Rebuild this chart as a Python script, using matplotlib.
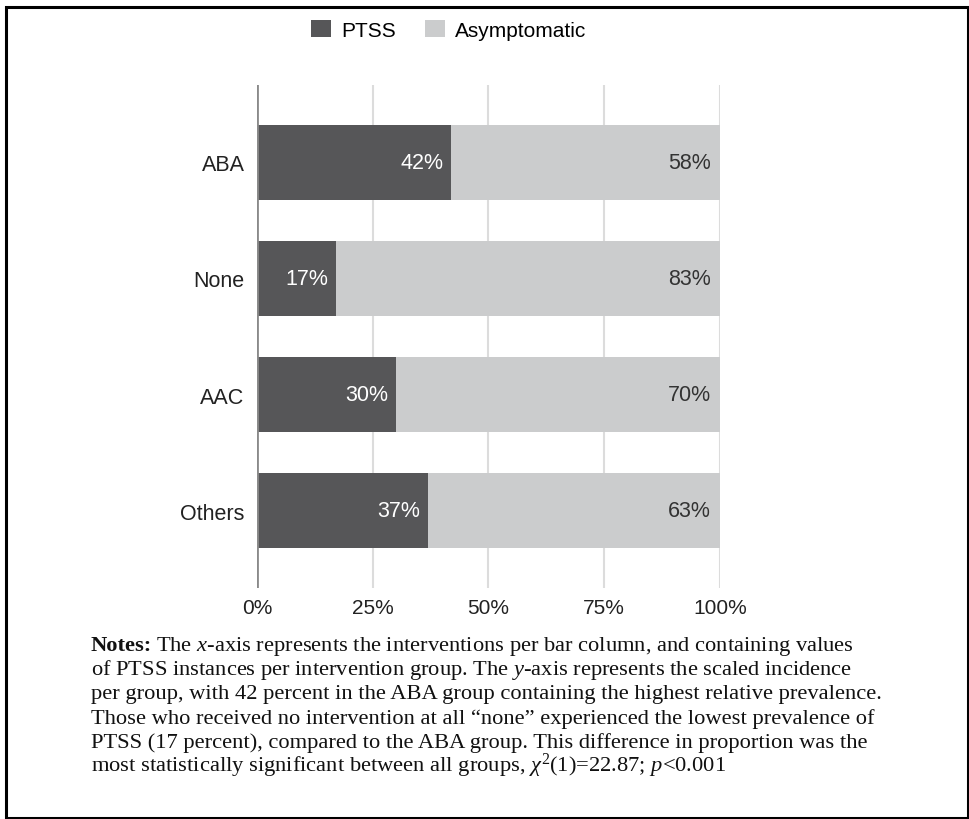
import matplotlib
matplotlib.use("Agg")
import matplotlib.pyplot as plt
from matplotlib.patches import Patch, Rectangle

# --- data ---
groups = ["ABA", "None", "AAC", "Others"]
ptss = [42, 17, 30, 37]
asymptomatic = [58, 83, 70, 63]
x_ticks = [0, 25, 50, 75, 100]
series_names = ["PTSS", "Asymptomatic"]

notes_head = "Notes:"
notes_lines = [
    "The $x$-axis represents the interventions per bar column, and containing values",
    "of PTSS instances per intervention group. The $y$-axis represents the scaled incidence",
    "per group, with 42 percent in the ABA group containing the highest relative prevalence.",
    "Those who received no intervention at all \u201cnone\u201d experienced the lowest prevalence of",
    "PTSS (17 percent), compared to the ABA group. This difference in proportion was the",
    "most statistically significant between all groups, $\\chi^{\\mathrm{2}}$(1)=22.87; $p$<0.001",
]

dark = "#565658"
light = "#cbcccd"

plt.rcParams["font.family"] = ["Liberation Sans", "DejaVu Sans"]
plt.rcParams["mathtext.fontset"] = "custom"
plt.rcParams["mathtext.rm"] = "Liberation Serif"
plt.rcParams["mathtext.it"] = "Liberation Serif:italic"
plt.rcParams["mathtext.bf"] = "Liberation Serif:bold"

W, H = 970, 820
fig = plt.figure(figsize=(W / 100, H / 100), dpi=100)
ax = fig.add_axes([257 / W, 1 - 589 / H, 463 / W, 503 / H])

ypos = list(range(len(groups)))
bar_h = 0.645
ax.barh(ypos, ptss, height=bar_h, color=dark, zorder=2)
ax.barh(ypos, asymptomatic, left=ptss, height=bar_h, color=light, zorder=2)

for y, p, a in zip(ypos, ptss, asymptomatic):
    ax.text(p - 1.7, y, f"{p}%", ha="right", va="center", color="white", fontsize=15.5, zorder=3)
    ax.text(100 - 1.9, y, f"{a}%", ha="right", va="center", color="#333333", fontsize=15.5, zorder=3)

ax.set_xlim(0, 100)
ax.set_ylim(len(groups) - 1 + 0.666, -0.666)
ax.set_xticks(x_ticks)
ax.set_xticklabels([f"{t}%" for t in x_ticks], fontsize=15, color="#222222")
ax.set_yticks(ypos)
ax.set_yticklabels(groups, fontsize=15.5, color="#222222")
ax.tick_params(axis="both", length=0)
ax.tick_params(axis="x", pad=7)
ax.tick_params(axis="y", pad=9)
for t in x_ticks[1:]:
    ax.axvline(t, color="#dcdcdc", lw=1.5, zorder=1)
ax.axvline(0, color="#8a8a8a", lw=2, zorder=3)
for s in ax.spines.values():
    s.set_visible(False)

handles = [Patch(facecolor=dark, edgecolor="none"), Patch(facecolor=light, edgecolor="none")]
fig.legend(handles, series_names, loc="center left", bbox_to_anchor=(311 / W, 1 - 31 / H),
           ncol=2, frameon=False, fontsize=15, handlelength=0.95, handleheight=0.9,
           handletextpad=0.5, columnspacing=1.4, borderpad=0, borderaxespad=0)

# notes block
x0 = 91 / W
base0 = 651
step = 24.2
serif = "Liberation Serif"
fs = 16.2
head = fig.text(x0, 1 - base0 / H, notes_head, fontsize=fs, family=serif,
                fontweight="bold", va="baseline", color="#111111")
renderer = fig.canvas.get_renderer()
hw = head.get_window_extent(renderer).width
for i, line in enumerate(notes_lines):
    x = x0 + (hw + 4) / W if i == 0 else x0
    fig.text(x, 1 - (base0 + i * step) / H, line, fontsize=fs, family=serif,
             va="baseline", color="#111111")

# outer frame
fig.add_artist(Rectangle((6.5 / W, 1 - 819 / H), (968 - 6.5) / W, (819 - 8) / H,
                         transform=fig.transFigure, fill=False, edgecolor="black", lw=2.2))

fig.savefig("out.png", dpi=100)
